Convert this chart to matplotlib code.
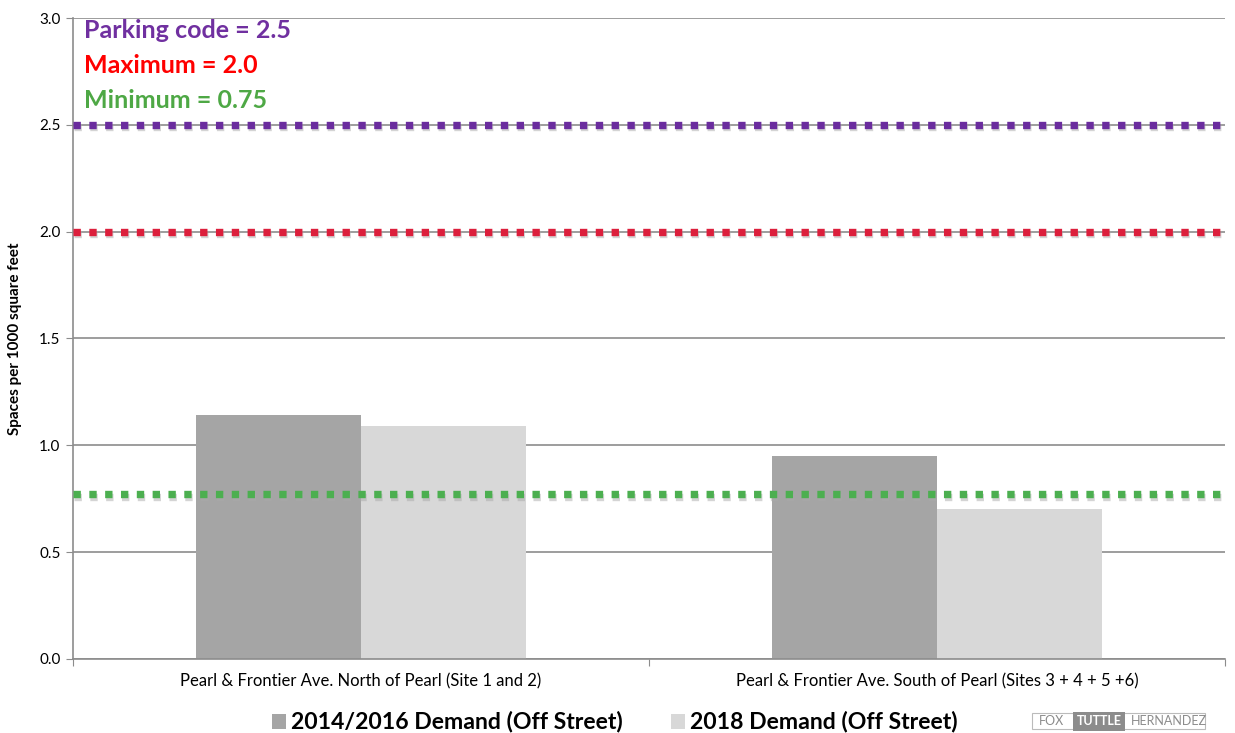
import matplotlib.pyplot as plt
import matplotlib.patheffects as pe
import numpy as np

# Data
categories = ['Pearl & Frontier Ave. North of Pearl (Site 1 and 2)',
              'Pearl & Frontier Ave. South of Pearl (Sites 3 + 4 + 5 +6)']
demand_2014_2016 = [1.14, 0.95]
demand_2018 = [1.09, 0.70]
series_names = ['2014/2016 Demand (Off Street)', '2018 Demand (Off Street)']

ref_values = [2.5, 2.0, 0.77]
ref_labels = ['Parking code = 2.5', 'Maximum = 2.0', 'Minimum = 0.75']
y_ticks = [0.0, 0.5, 1.0, 1.5, 2.0, 2.5, 3.0]

plt.rcParams['font.family'] = ['Lato', 'DejaVu Sans']

fig = plt.figure(figsize=(12.35, 7.33), dpi=100)
ax = fig.add_axes([0.0591, 0.101, 0.9328, 0.8744])

x = np.arange(len(categories))
w = 0.286
ax.bar(x - w / 2, demand_2014_2016, w, color='#a5a5a5', zorder=2)
ax.bar(x + w / 2, demand_2018, w, color='#d8d8d8', zorder=2)

ax.set_xlim(-0.5, 1.5)
ax.set_ylim(0, 3.0)
ax.set_yticks(y_ticks)
ax.set_yticklabels(['%.1f' % t for t in y_ticks], fontsize=11)
ax.yaxis.grid(True, color='#8c8c8c', linewidth=1.2, zorder=0)
ax.set_axisbelow(True)

# category labels between the group tick marks
ax.set_xticks([-0.5, 0.5, 1.5])
ax.set_xticklabels([])
ax.set_xticks(x, minor=True)
ax.set_xticklabels(categories, minor=True, fontsize=12)
ax.tick_params(axis='x', which='minor', length=0, pad=10)
ax.tick_params(axis='x', which='major', length=5, color='#8c8c8c')
ax.tick_params(axis='y', length=5, color='#8c8c8c', pad=4)

for s in ['top', 'right']:
    ax.spines[s].set_visible(False)
for s in ['left', 'bottom']:
    ax.spines[s].set_color('#8c8c8c')
    ax.spines[s].set_linewidth(1.2)

ax.set_ylabel('Spaces per 1000 square feet', fontsize=11, fontweight='bold', labelpad=12)

# Reference lines (square dots)
line_colors = ['#6a2c9e', '#dc1f3c', '#4caf50']
shadow = [pe.SimpleLineShadow(offset=(1, -1.5), shadow_color='#aaaaaa', alpha=0.5), pe.Normal()]
for v, c in zip(ref_values, line_colors):
    ax.axhline(v, color=c, linewidth=5.3, linestyle=(0, (1.0, 1.15)),
               dash_capstyle='butt', zorder=4, path_effects=shadow)

text_colors = ['#7030a0', '#ff0000', '#4ea845']
for i, (lab, c) in enumerate(zip(ref_labels, text_colors)):
    fig.text(0.068, 0.958 - i * 0.0475, lab, color=c, fontsize=18, fontweight='bold',
             va='center', ha='left')

# Legend
leg_x = [0.220, 0.543]
leg_cols = ['#a5a5a5', '#d8d8d8']
for lx, name, c in zip(leg_x, series_names, leg_cols):
    fig.patches.append(plt.Rectangle((lx, 0.006), 0.0115, 0.0195, transform=fig.transFigure,
                                     facecolor=c, edgecolor='none', figure=fig))
    fig.text(lx + 0.016, 0.016, name, fontsize=16.6, fontweight='bold', va='center', ha='left')

# Logo
fig.patches.append(plt.Rectangle((0.836, 0.005), 0.14, 0.022, transform=fig.transFigure,
                                 facecolor='white', edgecolor='#bbbbbb', linewidth=0.8, figure=fig))
fig.text(0.841, 0.016, 'FOX', fontsize=9, color='#8c8c8c', va='center', ha='left')
fig.text(0.872, 0.016, 'TUTTLE', fontsize=9, color='white', fontweight='bold', va='center', ha='left',
         bbox=dict(facecolor='#8c8c8c', edgecolor='none', pad=2.5))
fig.text(0.916, 0.016, 'HERNANDEZ', fontsize=9, color='#8c8c8c', va='center', ha='left')

fig.savefig('out.png', dpi=100)
